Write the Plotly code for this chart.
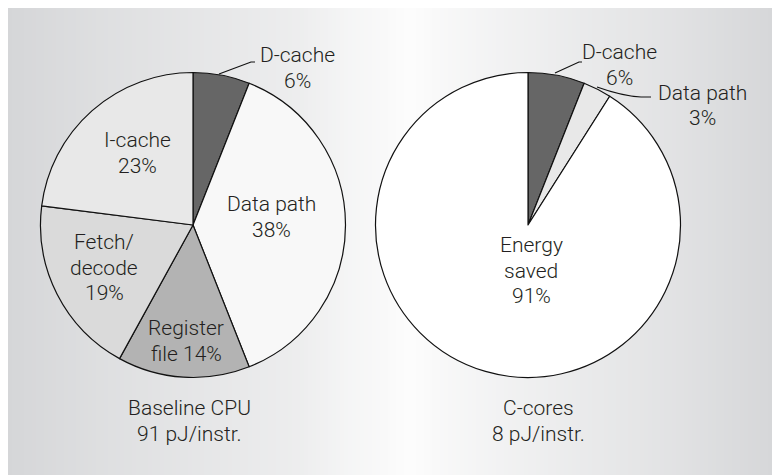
import plotly.graph_objects as go

# ---- data -------------------------------------------------------------
base_labels = ["D-cache", "Data path", "Register file", "Fetch/decode", "I-cache"]
base_values = [6, 38, 14, 19, 23]
base_colors = ["#666666", "#f8f8f8", "#b3b3b3", "#dadada", "#e8e8e8"]

ccore_labels = ["D-cache", "Data path", "Energy saved"]
ccore_values = [6, 3, 91]
ccore_colors = ["#666666", "#e8e8e8", "#ffffff"]

base_title = ["Baseline CPU", "91 pJ/instr."]
ccore_title = ["C-cores", "8 pJ/instr."]

# ---- layout helpers ----------------------------------------------------
W, H = 772, 475
R = 152.5
CENTERS = [(193, 225), (528, 225)]
LINE_GAP = 25.5


def px(x, y):
    """Pixel position -> paper coordinates."""
    return x / W, 1 - y / H


def domain(cx, cy):
    return dict(x=[(cx - R) / W, (cx + R) / W],
                y=[(H - cy - R) / H, (H - cy + R) / H])


FONT = dict(family="Roboto, 'Liberation Sans', Arial, sans-serif",
            size=21, color="#231f20", weight=300)

fig = go.Figure()

for labels, values, colors, (cx, cy) in [
    (base_labels, base_values, base_colors, CENTERS[0]),
    (ccore_labels, ccore_values, ccore_colors, CENTERS[1]),
]:
    fig.add_trace(go.Pie(
        labels=labels, values=values, sort=False, direction="clockwise",
        rotation=0, textinfo="none", hoverinfo="label+percent",
        marker=dict(colors=colors, line=dict(color="#111111", width=1.2)),
        domain=domain(cx, cy), showlegend=False,
    ))

# ---- background gradient (vertical strips) ----------------------------
stops = [(8, 213), (100, 222), (300, 237), (350, 245), (410, 252),
         (470, 245), (560, 236), (670, 226), (772, 214)]


def shade(x):
    for (x0, v0), (x1, v1) in zip(stops, stops[1:]):
        if x0 <= x <= x1:
            return v0 + (v1 - v0) * (x - x0) / (x1 - x0)
    return stops[-1][1]


shapes = []
step = 4
x = 8
while x < W:
    v = shade(x + step / 2)
    t = (252 - v) / 39.0
    r = int(round(v))
    g = int(round(v + 1 * t))
    b = int(round(v + 3 * t))
    x0, y0 = px(x, 8)
    x1, y1 = px(min(x + step, W), H)
    shapes.append(dict(type="rect", xref="paper", yref="paper",
                       x0=x0, x1=x1 + 0.0008, y0=y1, y1=y0,
                       fillcolor=f"rgb({r},{g},{b})", line=dict(width=0),
                       layer="below"))
    x += step


def path(points):
    s = ""
    for i, (xx, yy) in enumerate(points):
        pxx, pyy = px(xx, yy)
        s += ("M " if i == 0 else " L ") + f"{pxx:.5f},{pyy:.5f}"
    return s


# leader lines for the small outside labels
leader = dict(color="#111111", width=1.2)
shapes.append(dict(type="path", xref="paper", yref="paper",
                   path=path([(219, 74), (251, 62), (255, 62)]), line=leader))
shapes.append(dict(type="path", xref="paper", yref="paper",
                   path=path([(555, 73), (579, 62), (582, 62)]), line=leader))
a = px(597, 87)
c = px(622, 96)
e = px(641, 97)
f = px(651, 97)
shapes.append(dict(type="path", xref="paper", yref="paper",
                   path=f"M {a[0]:.5f},{a[1]:.5f} Q {c[0]:.5f},{c[1]:.5f} "
                        f"{e[0]:.5f},{e[1]:.5f} L {f[0]:.5f},{f[1]:.5f}",
                   line=leader))

# ---- slice labels (one annotation per text line) ------------------------
base_text = [
    ["D-cache", "{}%"],
    ["Data path", "{}%"],
    ["Register", "file {}%"],
    ["Fetch/", "decode", "{}%"],
    ["I-cache", "{}%"],
]
base_pos = [(297, 55), (271, 204), (186, 328), (104, 242), (137, 140)]
ccore_text = [["D-cache", "{}%"], ["Data path", "{}%"],
              ["Energy", "saved", "{}%"]]
ccore_pos = [(619, 52), (702, 93), (531, 245)]

annotations = []


def add_lines(lines, xx, y_first):
    for i, line in enumerate(lines):
        ax, ay = px(xx, y_first + i * LINE_GAP)
        annotations.append(dict(text=line, x=ax, y=ay,
                                xref="paper", yref="paper", showarrow=False,
                                xanchor="center", yanchor="middle", font=FONT))


for tmpl, val, (xx, yy) in list(zip(base_text, base_values, base_pos)) + \
        list(zip(ccore_text, ccore_values, ccore_pos)):
    add_lines([t.format(val) for t in tmpl], xx, yy)

add_lines(base_title, 189, 408)
add_lines(ccore_title, 538, 408)

fig.update_layout(
    width=W, height=H, margin=dict(l=0, r=0, t=0, b=0),
    paper_bgcolor="#ffffff", plot_bgcolor="#ffffff",
    shapes=shapes, annotations=annotations,
)

fig.write_html("out.html", config=dict(displayModeBar=False))
